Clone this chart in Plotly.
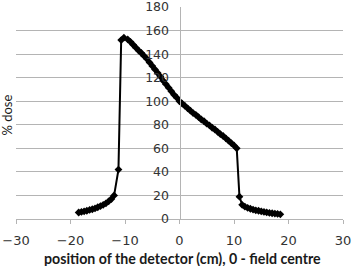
import plotly.graph_objects as go

# position of the detector (cm)
position_cm = [
    -18.5, -18, -17.5, -17, -16.5, -16, -15.5, -15, -14.5, -14, -13.5, -13, -12.5, -12,
    -11.2, -10.7, -10.2,
    -9.5, -9, -8.5, -8, -7.5, -7, -6.5, -6, -5.5, -5, -4.5, -4, -3.5, -3, -2.5, -2, -1.5, -1, -0.5,
    0, 0.5, 1, 1.5, 2, 2.5, 3, 3.5, 4, 4.5, 5, 5.5, 6, 6.5, 7, 7.5, 8, 8.5, 9, 9.5, 10, 10.5,
    11, 11.5, 12, 12.5, 13, 13.5, 14, 14.5, 15, 15.5, 16, 16.5, 17, 17.5, 18, 18.5,
]
# % dose
dose_pct = [
    5.5, 6, 6.5, 7, 7.7, 8.3, 9, 10, 11, 12, 13.3, 15, 17, 20,
    42, 152, 154,
    152.5, 150.5, 148, 145.5, 143, 141, 138.5, 136, 133, 130, 127, 124, 121, 117.5, 114.5, 111.5, 108.5, 105.5, 103,
    100, 98, 96, 94, 92, 90, 88.5, 86.5, 84.5, 83, 81, 79.5, 77.5, 76, 74, 72, 70.5, 68.5, 66.5, 64.5, 62.5, 60,
    19, 12, 10.5, 9.5, 8.7, 8, 7.4, 7, 6.5, 6, 5.6, 5.2, 4.9, 4.6, 4.3, 4,
]

x_ticks = [-30, -20, -10, 0, 10, 20, 30]
y_ticks = [0, 20, 40, 60, 80, 100, 120, 140, 160, 180]

x_title = "position of the detector (cm), 0 - field centre"
y_title = "% dose"

fig = go.Figure(
    go.Scatter(
        x=position_cm, y=dose_pct, mode="lines+markers",
        line=dict(color="black", width=2),
        marker=dict(symbol="diamond", size=6, color="black"),
        showlegend=False,
    )
)

grid = "#b4b4b4"
fig.update_layout(
    width=352, height=266,
    margin=dict(l=16, r=9, t=7, b=47, autoexpand=False),
    paper_bgcolor="white", plot_bgcolor="white",
    font=dict(family="DejaVu Sans", size=13, color="#333333"),
    xaxis=dict(
        range=[-30, 30], tickvals=x_ticks, showgrid=False, zeroline=False,
        showline=True, linecolor=grid, linewidth=1,
        ticks="outside", ticklen=4, tickcolor=grid,
        ticklabelstandoff=5, automargin=False,
    ),
    yaxis=dict(
        range=[0, 180.05], tickvals=y_ticks, showgrid=True, gridcolor=grid, gridwidth=1,
        zeroline=False, showline=True, linecolor=grid, linewidth=1,
        anchor="free", position=0.5, ticks="", ticklabelstandoff=8,
        ticklabeloverflow="allow",
        tickfont=dict(size=12.5), automargin=False,
    ),
    annotations=[
        dict(text="<b>" + x_title + "</b>", xref="paper", yref="paper",
             x=0.5, xshift=3, y=0, yshift=-39, xanchor="center", yanchor="middle",
             showarrow=False, font=dict(family="Lato", size=14.2, color="#1a1a1a")),
        dict(text=y_title, xref="paper", yref="paper", textangle=-90,
             x=0, xshift=-8.5, y=0.49, xanchor="center", yanchor="middle",
             showarrow=False, font=dict(family="Lato", size=13, color="#1a1a1a")),
    ],
)

fig.write_html("out.html", config={"displayModeBar": False},
               post_script="document.body.style.margin='0';document.body.style.overflow='hidden';")
